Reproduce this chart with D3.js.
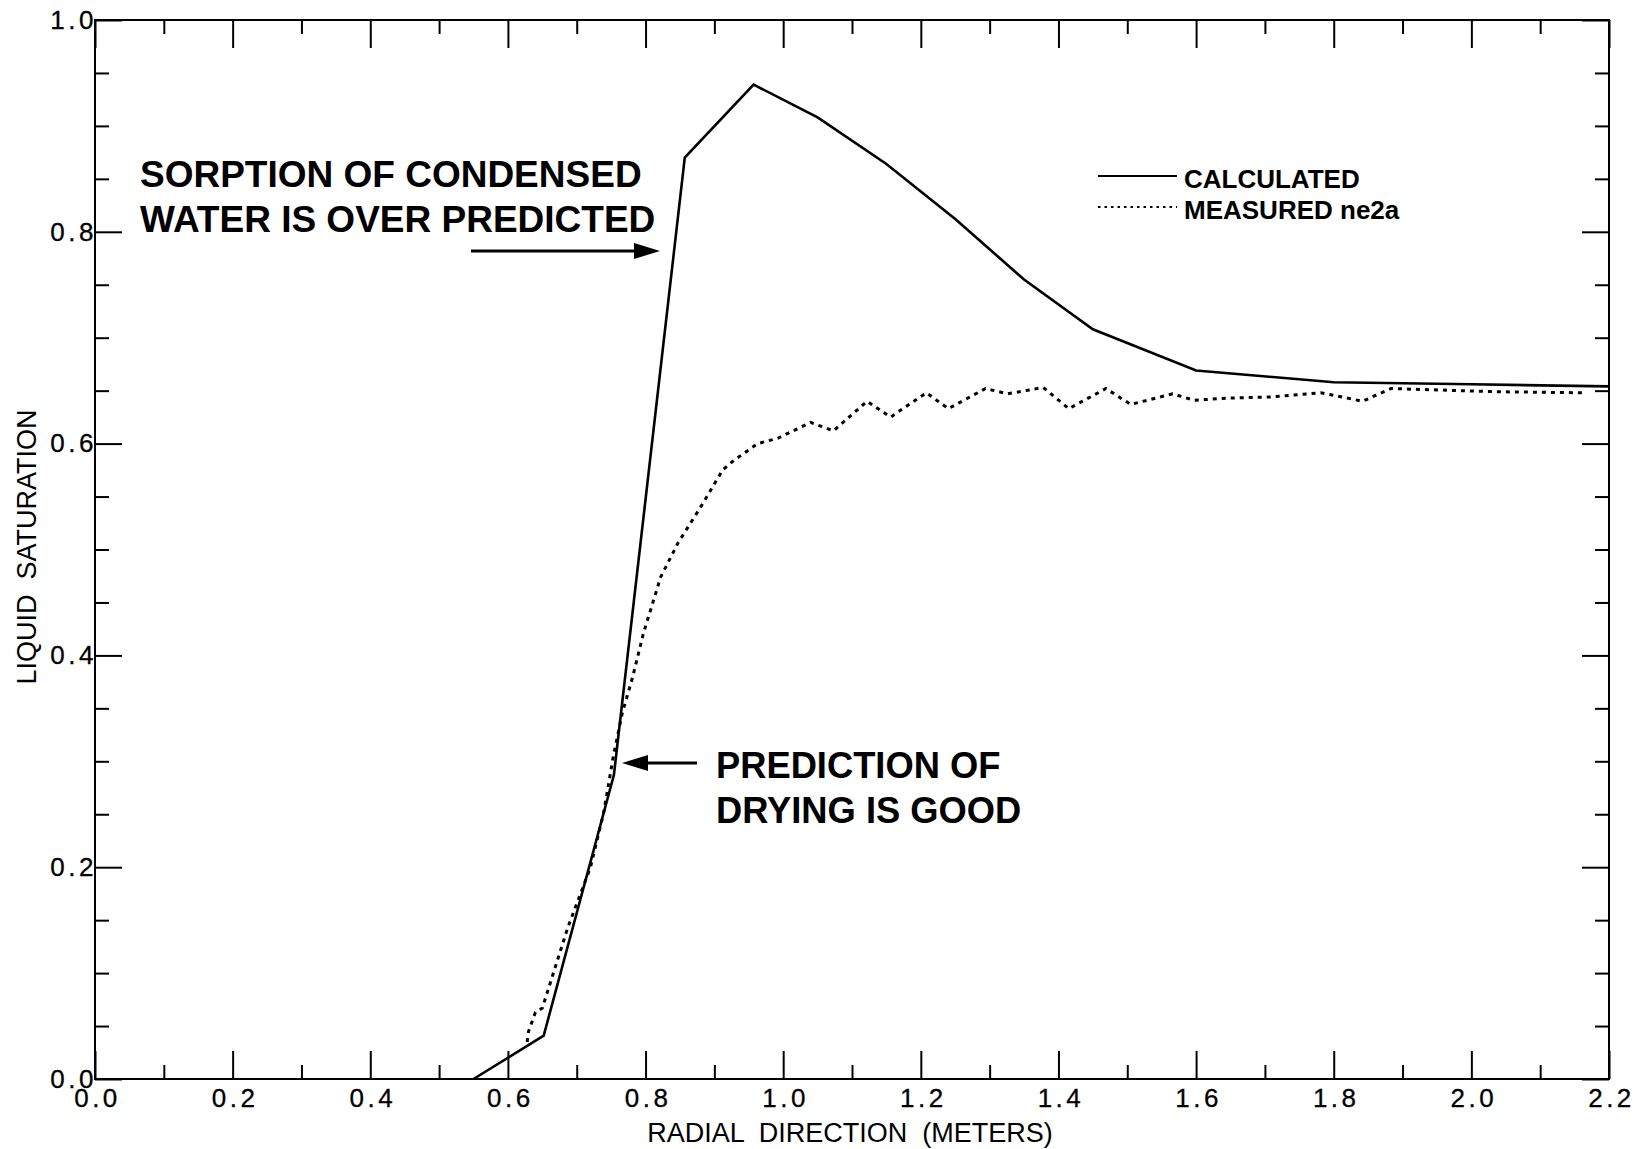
<!DOCTYPE html>
<html>
<head>
<meta charset="utf-8">
<script src="https://cdn.jsdelivr.net/npm/d3@7"></script>
<style>
  html, body { margin: 0; padding: 0; background: #fff; }
  svg { display: block; }
  text { font-family: "Liberation Sans", Arial, Helvetica, sans-serif; fill: #000; }
</style>
</head>
<body>
<svg id="chart" width="1641" height="1149"></svg>
<script>
// ---- data ----
const calcX = [0.55, 0.652, 0.754, 0.857, 0.957, 1.05, 1.15, 1.25, 1.35, 1.45, 1.6, 1.8, 2.0, 2.2];
const calcY = [0.0, 0.041, 0.287, 0.870, 0.939, 0.908, 0.864, 0.812, 0.755, 0.708, 0.669, 0.658, 0.656, 0.654];

const measX = [0.628, 0.630, 0.640, 0.650, 0.687, 0.720, 0.739, 0.753, 0.766, 0.781, 0.797, 0.822, 0.847, 0.880, 0.912, 0.928, 0.963, 0.992,
               1.040, 1.073, 1.122, 1.156, 1.208, 1.240, 1.294, 1.326, 1.378, 1.415, 1.469, 1.505, 1.566, 1.597, 1.650, 1.708,
               1.781, 1.842, 1.883, 2.035, 2.163];
const measY = [0.035, 0.045, 0.063, 0.067, 0.143, 0.200, 0.251, 0.304, 0.345, 0.379, 0.421, 0.474, 0.506, 0.540, 0.575, 0.584, 0.600, 0.605,
               0.620, 0.612, 0.640, 0.625, 0.648, 0.633, 0.652, 0.647, 0.653, 0.633, 0.652, 0.637, 0.647, 0.641, 0.643, 0.644,
               0.648, 0.640, 0.652, 0.649, 0.648];

const xMajorTicks = [0.0, 0.2, 0.4, 0.6, 0.8, 1.0, 1.2, 1.4, 1.6, 1.8, 2.0, 2.2];
const xMinorTicks = [0.1, 0.3, 0.5, 0.7, 0.9, 1.1, 1.3, 1.5, 1.7, 1.9, 2.1];
const yMajorTicks = [0.0, 0.2, 0.4, 0.6, 0.8, 1.0];
const yMinorTicks = [0.05, 0.1, 0.15, 0.25, 0.3, 0.35, 0.45, 0.5, 0.55, 0.65, 0.7, 0.75, 0.85, 0.9, 0.95];

const xTitle = "RADIAL  DIRECTION  (METERS)";
const yTitle = "LIQUID  SATURATION";
const legendLabels = ["CALCULATED", "MEASURED ne2a"];
const note1 = ["SORPTION OF CONDENSED", "WATER IS OVER PREDICTED"];
const note2 = ["PREDICTION OF", "DRYING IS GOOD"];

// ---- layout ----
const svg = d3.select("#chart");
const L = 95, R = 1609, T = 20, B = 1079;
const x = d3.scaleLinear().domain([0, 2.2]).range([L, R]);
const y = d3.scaleLinear().domain([0, 1]).range([B, T]);

const fmt = d3.format(".1f");

function styleAxis(g) {
  g.select(".domain").remove();
  g.selectAll(".tick line").attr("stroke", "#000").attr("stroke-width", 2);
}

// bottom axis
svg.append("g").attr("transform", `translate(0,${B})`)
  .call(d3.axisBottom(x).tickValues(xMinorTicks).tickSize(-14).tickFormat(""))
  .call(styleAxis);
svg.append("g").attr("transform", `translate(0,${B})`)
  .call(d3.axisBottom(x).tickValues(xMajorTicks).tickSize(-28).tickPadding(7).tickFormat(fmt))
  .call(styleAxis)
  .call(g => g.selectAll("text").attr("font-size", 26).attr("letter-spacing", 3.5)
     .attr("stroke", "#000").attr("stroke-width", 0.3)
     .attr("dy", "0.8em").attr("dx", 2));
// top axis
svg.append("g").attr("transform", `translate(0,${T})`)
  .call(d3.axisTop(x).tickValues(xMinorTicks).tickSize(-14).tickFormat(""))
  .call(styleAxis);
svg.append("g").attr("transform", `translate(0,${T})`)
  .call(d3.axisTop(x).tickValues(xMajorTicks).tickSize(-28).tickFormat(""))
  .call(styleAxis);
// left axis
svg.append("g").attr("transform", `translate(${L},0)`)
  .call(d3.axisLeft(y).tickValues(yMinorTicks).tickSize(-14).tickFormat(""))
  .call(styleAxis);
svg.append("g").attr("transform", `translate(${L},0)`)
  .call(d3.axisLeft(y).tickValues(yMajorTicks).tickSize(-27).tickPadding(2).tickFormat(fmt))
  .call(styleAxis)
  .call(g => g.selectAll("text").attr("font-size", 26).attr("letter-spacing", 3.5)
     .attr("stroke", "#000").attr("stroke-width", 0.3).attr("dx", 4));
// right axis
svg.append("g").attr("transform", `translate(${R},0)`)
  .call(d3.axisRight(y).tickValues(yMinorTicks).tickSize(-14).tickFormat(""))
  .call(styleAxis);
svg.append("g").attr("transform", `translate(${R},0)`)
  .call(d3.axisRight(y).tickValues(yMajorTicks).tickSize(-27).tickFormat(""))
  .call(styleAxis);

// frame
svg.append("rect").attr("x", L).attr("y", T).attr("width", R - L).attr("height", B - T)
  .attr("fill", "none").attr("stroke", "#000").attr("stroke-width", 2);

// axis titles
svg.append("text").attr("x", 850).attr("y", 1142).attr("text-anchor", "middle")
  .attr("font-size", 27).style("white-space", "pre").text(xTitle);
svg.append("text").attr("transform", "translate(36,547) rotate(-90)").attr("text-anchor", "middle")
  .attr("font-size", 27).style("white-space", "pre").text(yTitle);

// lines
const line = d3.line().x(d => x(d[0])).y(d => y(d[1]));
const calc = calcX.map((v, i) => [v, calcY[i]]);
const meas = measX.map((v, i) => [v, measY[i]]);

svg.append("path").datum(meas).attr("d", line)
  .attr("fill", "none").attr("stroke", "#000").attr("stroke-width", 3)
  .attr("stroke-dasharray", "4,5");
svg.append("path").datum(calc).attr("d", line)
  .attr("fill", "none").attr("stroke", "#000").attr("stroke-width", 2.6)
  .attr("stroke-linejoin", "miter");

// legend
const lg = svg.append("g");
lg.append("line").attr("x1", 1098).attr("x2", 1177).attr("y1", 176).attr("y2", 176)
  .attr("stroke", "#000").attr("stroke-width", 2);
lg.append("line").attr("x1", 1098).attr("x2", 1177).attr("y1", 207).attr("y2", 207)
  .attr("stroke", "#000").attr("stroke-width", 2).attr("stroke-dasharray", "2.5,4");
lg.selectAll("text").data(legendLabels).join("text")
  .attr("x", 1184).attr("y", (d, i) => 188 + i * 31)
  .attr("font-size", 26).attr("font-weight", "bold").text(d => d);

// annotations
svg.append("g").selectAll("text").data(note1).join("text")
  .attr("x", 140).attr("y", (d, i) => 187 + i * 45)
  .attr("font-size", 37).attr("font-weight", "bold").text(d => d);
svg.append("g").selectAll("text").data(note2).join("text")
  .attr("x", 716).attr("y", (d, i) => 778 + i * 45)
  .attr("font-size", 36.3).attr("font-weight", "bold").text(d => d);

function arrow(x1, y1, x2, y2) {
  const dir = Math.sign(x2 - x1);
  const headLen = 26, headHalf = 8;
  svg.append("line").attr("x1", x1).attr("y1", y1).attr("x2", x2 - dir * headLen + dir * 2).attr("y2", y2)
    .attr("stroke", "#000").attr("stroke-width", 3);
  svg.append("path")
    .attr("d", `M${x2},${y2} L${x2 - dir * headLen},${y2 - headHalf} L${x2 - dir * headLen},${y2 + headHalf} Z`)
    .attr("fill", "#000");
}
arrow(471, 251, 660, 251);
arrow(697, 763, 622, 763);
</script>
</body>
</html>
